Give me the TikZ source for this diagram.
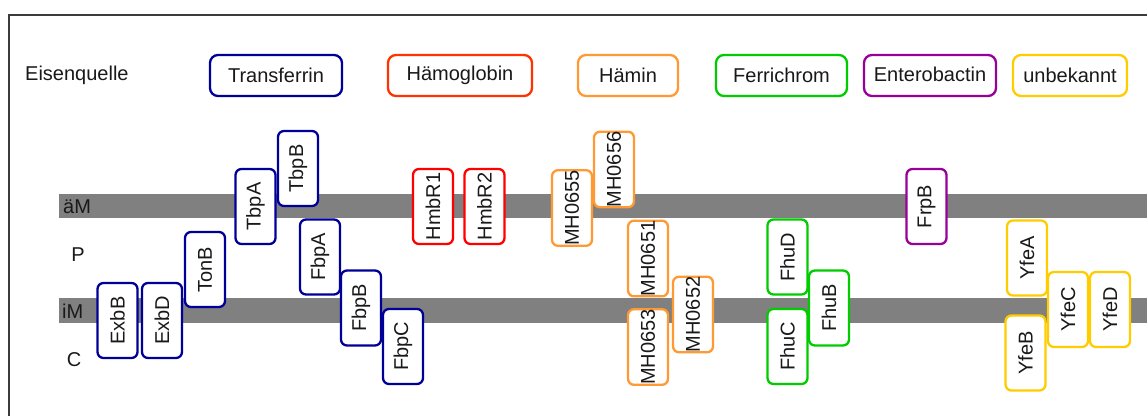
\documentclass[tikz,border=0pt]{standalone}
\usepackage{fontspec}
\setmainfont{Liberation Sans}
\definecolor{tfblue}{RGB}{0,0,153}
\definecolor{hbred}{RGB}{255,51,0}
\definecolor{hmbred}{RGB}{255,0,0}
\definecolor{haemorange}{RGB}{255,153,51}
\definecolor{ferrigreen}{RGB}{0,204,0}
\definecolor{enteropurple}{RGB}{153,0,153}
\definecolor{unkyellow}{RGB}{255,204,0}
\definecolor{membrane}{RGB}{128,128,128}
\definecolor{framegray}{RGB}{60,60,60}
\tikzset{
  txt/.style={font=\fontsize{20}{24}\selectfont, text=black!90, inner sep=0pt},
  prot/.style={txt, draw, fill=white, rounded corners=6pt, line width=2.3pt,
    rotate=90, minimum width=75pt, minimum height=40pt},
  legendbox/.style={txt, draw, fill=white, rounded corners=8pt, line width=2.3pt,
    minimum height=41pt},
  membar/.style={fill=membrane, draw=none},
}
\begin{document}
\begin{tikzpicture}[x=1pt, y=-1pt]
\useasboundingbox (0,0) rectangle (1147,416);
% outer frame
\draw[framegray, line width=1.3pt] (9,416) -- (9,15) -- (1147,15);

% membranes
\fill[membar] (59,194) rectangle (1147,218);
\fill[membar] (59,298) rectangle (1147,323);
\node[txt, anchor=west] (lam) at (63,207) {äM};
\node[txt, anchor=west] (lim) at (62,311) {iM};
\node[txt] (lp) at (78,255) {P};
\node[txt] (lc) at (74,360) {C};

% legend
\node[txt, anchor=west] (src) at (25,75) {Eisenquelle};
\node[legendbox, draw=tfblue, minimum width=132pt] (ltf) at (276,75.5) {Transferrin};
\node[legendbox, draw=hbred, minimum width=144pt] (lhb) at (460,75.5) {\raisebox{2pt}{Hämoglobin}};
\node[legendbox, draw=haemorange, minimum width=100pt] (lhm) at (628,75.5) {Hämin};
\node[legendbox, draw=ferrigreen, minimum width=131pt] (lfc) at (781.5,75.5) {Ferrichrom};
\node[legendbox, draw=enteropurple, minimum width=132pt] (len) at (930,75.5) {\raisebox{2pt}{Enterobactin}};
\node[legendbox, draw=unkyellow, minimum width=114pt] (lunk) at (1070,75.5) {unbekannt};

% transferrin system
\node[prot, draw=tfblue] (exbb) at (117.5,320.5) {ExbB};
\node[prot, draw=tfblue] (exbd) at (162,320.5) {ExbD};
\node[prot, draw=tfblue] (tonb) at (205,269.5) {TonB};
\node[prot, draw=tfblue] (tbpa) at (255.5,206.5) {TbpA};
\node[prot, draw=tfblue] (tbpb) at (298,168.5) {TbpB};
\node[prot, draw=tfblue] (fbpa) at (320,257) {FbpA};
\node[prot, draw=tfblue] (fbpb) at (361,308) {FbpB};
\node[prot, draw=tfblue] (fbpc) at (403,346.5) {FbpC};

% haemoglobin receptors
\node[prot, draw=hmbred] (hmbr1) at (433,206.5) {HmbR1};
\node[prot, draw=hmbred] (hmbr2) at (484.5,206.5) {HmbR2};

% haemin system
\node[prot, draw=haemorange] (mh655) at (572,208) {MH0655};
\node[prot, draw=haemorange] (mh656) at (614,169.5) {MH0656};
\node[prot, draw=haemorange] (mh651) at (648,258.5) {MH0651};
\node[prot, draw=haemorange] (mh652) at (693,314.5) {MH0652};
\node[prot, draw=haemorange] (mh653) at (648,347) {MH0653};

% ferrichrome system
\node[prot, draw=ferrigreen] (fhud) at (787.5,257) {FhuD};
\node[prot, draw=ferrigreen] (fhub) at (829,308) {FhuB};
\node[prot, draw=ferrigreen] (fhuc) at (787.5,346.5) {FhuC};

% enterobactin receptor
\node[prot, draw=enteropurple] (frpb) at (926.5,206.5) {FrpB};

% unknown source
\node[prot, draw=unkyellow] (yfea) at (1027,258) {YfeA};
\node[prot, draw=unkyellow] (yfec) at (1068,309.5) {YfeC};
\node[prot, draw=unkyellow] (yfed) at (1110,309.5) {YfeD};
\node[prot, draw=unkyellow] (yfeb) at (1025.5,353) {YfeB};
\end{tikzpicture}
\end{document}
